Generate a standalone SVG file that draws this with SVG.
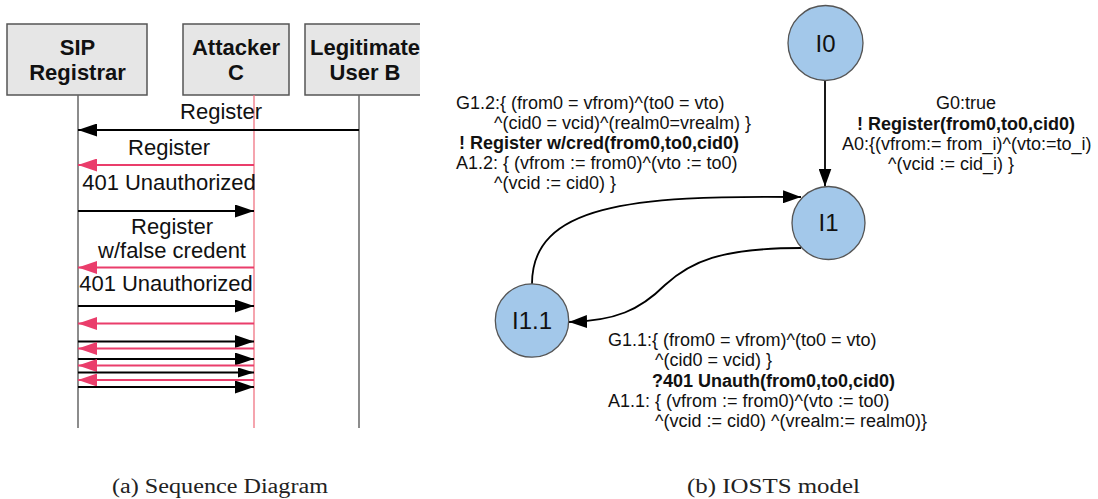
<svg xmlns="http://www.w3.org/2000/svg" width="1098" height="499" viewBox="0 0 1098 499">
<style>
.box{fill:#e6e6e6;stroke:#555;stroke-width:1.5}
.bt{font-family:"Liberation Sans",Arial,sans-serif;font-size:22px;font-weight:bold;fill:#111;text-anchor:middle}
.mt{font-family:"Liberation Sans",Arial,sans-serif;font-size:22px;fill:#111;text-anchor:middle}
.ll{stroke:#666;stroke-width:1.5;fill:none}
.llp{stroke:#f07483;stroke-width:1.3;fill:none}
.mb{stroke:#000;stroke-width:2;fill:none}
.mp{stroke:#ea3d6b;stroke-width:2;fill:none}
.st{fill:#a3c8ea;stroke:#555;stroke-width:1.3}
.sn{font-family:"Liberation Sans",Arial,sans-serif;font-size:24px;fill:#111;text-anchor:middle}
.lt{font-family:"Liberation Sans",Arial,sans-serif;font-size:18px;fill:#111}
.lb{font-weight:bold}
.ed{stroke:#000;stroke-width:1.8;fill:none}
.cap{font-family:"Liberation Serif","Times New Roman",serif;font-size:20px;fill:#222}
</style>
<defs>
<marker id="ah" markerUnits="userSpaceOnUse" markerWidth="19" markerHeight="13" refX="19" refY="6.5" orient="auto"><path d="M0,0 L19,6.5 L0,13 Z" fill="#000"/></marker>
<marker id="ahp" markerUnits="userSpaceOnUse" markerWidth="19" markerHeight="13" refX="19" refY="6.5" orient="auto"><path d="M0,0 L19,6.5 L0,13 Z" fill="#ea3d6b"/></marker>
<marker id="ahs" markerUnits="userSpaceOnUse" markerWidth="16" markerHeight="10" refX="16" refY="5" orient="auto"><path d="M0,0 L16,5 L0,10 Z" fill="#000"/></marker>
<marker id="arr" markerUnits="userSpaceOnUse" markerWidth="19" markerHeight="13" refX="18" refY="6.5" orient="auto"><path d="M0,0 L18,6.5 L0,13 Z" fill="#000"/></marker>
</defs>

<!-- Sequence diagram -->
<g id="sip-registrar">
<rect class="box" x="7" y="24" width="140" height="71"/>
<text class="bt" x="77.5" y="55">SIP</text>
<text class="bt" x="77.5" y="80">Registrar</text>
<line class="ll" x1="78" y1="95" x2="78" y2="428"/>
</g>
<g id="attacker-c">
<rect class="box" x="183" y="24" width="106" height="71"/>
<text class="bt" x="236" y="55">Attacker</text>
<text class="bt" x="236" y="80">C</text>
<line class="llp" x1="254" y1="95" x2="254" y2="428"/>
</g>
<g id="legitimate-user-b">
<rect x="305" y="24" width="115" height="71" fill="#e6e6e6"/>
<path d="M420,24 H305 V95 H420" fill="none" stroke="#555" stroke-width="1.5"/>
<text class="bt" x="365" y="55">Legitimate</text>
<text class="bt" x="365" y="80">User B</text>
<line class="ll" x1="359" y1="95" x2="359" y2="428"/>
</g>

<g id="messages">
<text class="mt" x="221" y="119">Register</text>
<line class="mb" x1="359" y1="130" x2="78" y2="130" marker-end="url(#ah)"/>
<text class="mt" x="169" y="155">Register</text>
<line class="mp" x1="254" y1="165" x2="78" y2="165" marker-end="url(#ahp)"/>
<text class="mt" x="169" y="190">401 Unauthorized</text>
<line class="mb" x1="78" y1="211" x2="254" y2="211" marker-end="url(#ah)"/>
<text class="mt" x="172" y="234">Register</text>
<text class="mt" x="172" y="258">w/false credent</text>
<line class="mp" x1="254" y1="267.5" x2="78" y2="267.5" marker-end="url(#ahp)"/>
<text class="mt" x="166" y="291">401 Unauthorized</text>
<line class="mb" x1="78" y1="306" x2="254" y2="306" marker-end="url(#ah)"/>
<line class="mp" x1="254" y1="323.5" x2="78" y2="323.5" marker-end="url(#ahp)"/>
<line class="mb" x1="78" y1="341.5" x2="254" y2="341.5" marker-end="url(#ah)"/>
<line class="mp" x1="254" y1="348.5" x2="78" y2="348.5" marker-end="url(#ahp)"/>
<line class="mb" x1="78" y1="359" x2="254" y2="359" marker-end="url(#ah)"/>
<line class="mp" x1="254" y1="365.5" x2="78" y2="365.5" marker-end="url(#ahp)"/>
<line class="mb" x1="78" y1="372.5" x2="254" y2="372.5" stroke-width="1.5" marker-end="url(#ahs)"/>
<line class="mp" x1="254" y1="380" x2="78" y2="380" marker-end="url(#ahp)"/>
<line class="mb" x1="78" y1="387" x2="254" y2="387" marker-end="url(#ah)"/>
</g>

<!-- IOSTS model -->
<g id="connectors">
<line class="ed" x1="825" y1="81" x2="825" y2="186.5" marker-end="url(#arr)"/>
<path class="ed" d="M532,284 C532,205 630,195 801,197" marker-end="url(#arr)"/>
<path class="ed" d="M801,248 C720,248 690,262 665,285 C640,310 615,321 569,322" marker-end="url(#arr)"/>
</g>
<g id="l0">
<circle class="st" cx="825.5" cy="43" r="37.5"/>
<text class="sn" x="825.5" y="52">I0</text>
</g>
<g id="l1">
<circle class="st" cx="828.5" cy="223" r="36.5"/>
<text class="sn" x="828.5" y="231">I1</text>
</g>
<g id="l1-1">
<circle class="st" cx="532" cy="320.5" r="36.7"/>
<text class="sn" x="532" y="328.5">I1.1</text>
</g>

<g id="edge-labels">
<text class="lt" x="456" y="109">G1.2:{ (from0 = vfrom)^(to0 = vto)</text>
<text class="lt" x="494" y="129">^(cid0 = vcid)^(realm0=vrealm) }</text>
<text class="lt lb" x="459" y="149">! Register w/cred(from0,to0,cid0)</text>
<text class="lt" x="456" y="169">A1.2: { (vfrom := from0)^(vto := to0)</text>
<text class="lt" x="494" y="189">^(vcid := cid0) }</text>

<text class="lt" x="966" y="109" text-anchor="middle">G0:true</text>
<text class="lt lb" x="966" y="130" text-anchor="middle">! Register(from0,to0,cid0)</text>
<text class="lt" x="842" y="150">A0:{(vfrom:= from_i)^(vto:=to_i)</text>
<text class="lt" x="888" y="170">^(vcid := cid_i) }</text>

<text class="lt" x="608" y="346">G1.1:{ (from0 = vfrom)^(to0 = vto)</text>
<text class="lt" x="655" y="366">^(cid0 = vcid) }</text>
<text class="lt lb" x="652" y="387">?401 Unauth(from0,to0,cid0)</text>
<text class="lt" x="608" y="407">A1.1: { (vfrom := from0)^(vto := to0)</text>
<text class="lt" x="655" y="427">^(vcid := cid0) ^(vrealm:= realm0)}</text>
</g>

<text class="cap" x="112" y="493" textLength="216" lengthAdjust="spacingAndGlyphs">(a) Sequence Diagram</text>
<text class="cap" x="687" y="493" textLength="173" lengthAdjust="spacingAndGlyphs">(b) IOSTS model</text>
</svg>
